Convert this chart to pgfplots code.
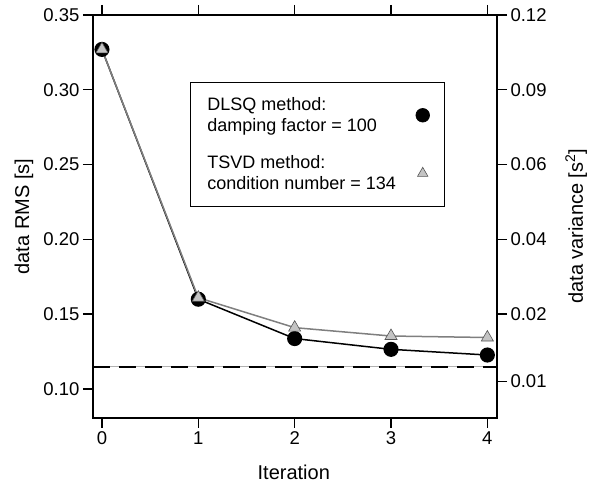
\documentclass[border=0pt]{standalone}
\usepackage{pgfplots}
\pgfplotsset{compat=1.18}
\usepackage{fontspec}
\setmainfont{Liberation Sans}
\definecolor{tgray}{HTML}{7F7F7F}
\definecolor{tfill}{HTML}{C4C4C4}
\definecolor{tedge}{HTML}{555555}
\pgfplotsset{
  common/.style={
    at={(0,0)}, anchor=south west, scale only axis,
    width=404pt, height=403pt,
    xmin=-0.093, xmax=4.1, ymin=0.0806, ymax=0.35,
    tick align=outside,
    major tick length=10pt,
    every tick/.style={black, line width=1.4pt},
    axis line style={line width=1.8pt},
    tick label style={font=\fontsize{18.5}{22}\selectfont},
    label style={font=\fontsize{20}{24}\selectfont},
    /pgf/number format/assume math mode=true,
  }
}
\begin{document}
\begin{tikzpicture}[x=1pt,y=1pt]
\useasboundingbox (-93,-69) rectangle (505,418);
\begin{axis}[common,
  xtick={0,1,2,3,4},
  xtick pos=both, xticklabel pos=bottom,
  ytick={0.10,0.15,0.20,0.25,0.30,0.35},
  ytick pos=left,
  yticklabel style={/pgf/number format/.cd, fixed, fixed zerofill, precision=2},
  xlabel={Iteration},
  ylabel={data RMS [s]},
  xlabel style={at={(axis description cs:0.497,-0.134)}, anchor=center},
  ylabel style={at={(axis description cs:-0.171,0.5)}, anchor=center},
  legend plot pos=right,
  legend style={at={(axis description cs:0.240,0.834)}, anchor=north west,
    draw=black, line width=0.7pt, inner xsep=15pt, inner ysep=13pt,
    row sep=18pt, column sep=18pt,
    font=\fontsize{18}{21.5}\selectfont, cells={anchor=west},
    nodes={align=left}},
]
\addplot[black, line width=1.5pt, mark=*, mark size=6.8pt, mark options={fill=black}, forget plot]
  coordinates {(0,0.327) (1,0.160) (2,0.1337) (3,0.1265) (4,0.1227)};
\addplot[tgray, line width=1.5pt, mark=triangle*, mark size=7pt, mark options={fill=tfill, draw=tedge, line width=0.6pt}, forget plot]
  coordinates {(0,0.327) (1,0.161) (2,0.141) (3,0.1354) (4,0.1344)};
\addplot[gray!60, line width=0.6pt, forget plot] coordinates {(-0.093,0.115) (4.1,0.115)};
\addplot[black, line width=2pt, dash pattern=on 17pt off 9pt, forget plot] coordinates {(-0.093,0.115) (4.1,0.115)};
\addlegendimage{only marks, mark=*, mark size=6.8pt, black, mark options={fill=black}}
\addlegendentry{{DLSQ method:\\damping factor = 100}}
\addlegendimage{only marks, mark=triangle*, mark size=6pt, mark options={fill=tfill, draw=tedge, line width=0.6pt}}
\addlegendentry{{TSVD method:\\condition number = 134}}
\end{axis}
\begin{axis}[common,
  hide x axis,
  axis y line*=right,
  ytick={0.105,0.15,0.20,0.25,0.30,0.35},
  yticklabels={0.01,0.02,0.04,0.06,0.09,0.12},
  ylabel={data variance [s\textsuperscript{2}]},
  ylabel style={at={(axis description cs:1.196,0.476)}, anchor=center},
]
\end{axis}
\end{tikzpicture}
\end{document}
